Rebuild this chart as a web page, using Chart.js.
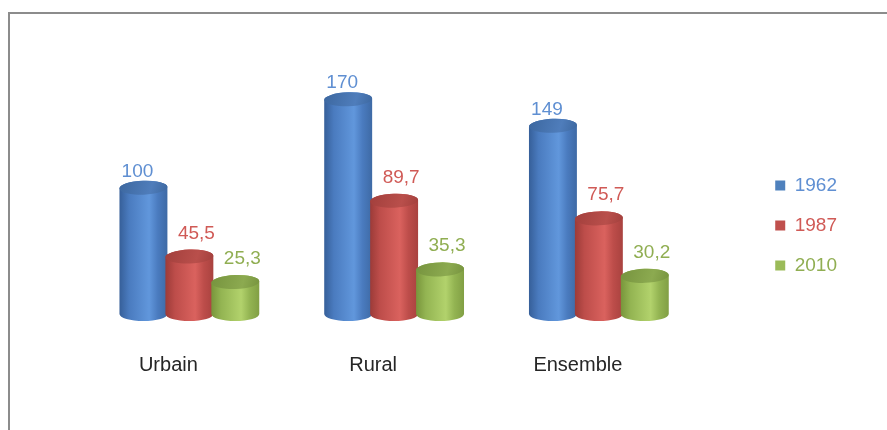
<!DOCTYPE html>
<html>
<head>
<meta charset="utf-8">
<script src="https://cdn.jsdelivr.net/npm/chart.js@4.4.1/dist/chart.umd.min.js"></script>
<style>
  html, body { margin: 0; padding: 0; background: #fff; overflow: hidden; }
  #frame { position: absolute; left: 8px; top: 12px; width: 900px; height: 440px; border: 2px solid #8c8c8c; }
  #wrap { position: absolute; left: 0; top: 0; width: 887px; height: 430px; }
</style>
</head>
<body>
<div id="frame"></div>
<div id="wrap"><canvas id="chart" width="887" height="430"></canvas></div>
<script>
const categories = ['Urbain', 'Rural', 'Ensemble'];
const years = ['1962', '1987', '2010'];
const values1962 = [100, 170, 149];
const values1987 = [45.5, 89.7, 75.7];
const values2010 = [25.3, 35.3, 30.2];

const seriesColors = ['#4f81bd', '#c0504d', '#9bbb59'];
const textColors = ['#5f8fd2', '#d05a56', '#90ae52'];
// body gradient (left, light, right) and top cap colour for each series
const shades = [
  { edge: '#365f99', mid: '#4a7bbf', light: '#6197dc', right: '#3e6aa5', top: '#3c679f', topLight: '#4f7dbb' },
  { edge: '#9c3b38', mid: '#bd4d4a', light: '#da625e', right: '#a9423f', top: '#a23f3c', topLight: '#b94f4b' },
  { edge: '#78953b', mid: '#93b452', light: '#b2d26c', right: '#819f44', top: '#76933e', topLight: '#8caa50' }
];
// label nudges per series (x shift, gap above the cap)
const labelDx = [-6, 7, 7];
const labelGap = [11, 18, 18];

const FONT = 'Liberation Sans, Arial, sans-serif';

function drawCylinder(ctx, x, top, base, w, s) {
  const rx = w / 2, ry = 7, tilt = -0.035;
  const g = ctx.createLinearGradient(x - rx, 0, x + rx, 0);
  g.addColorStop(0, s.edge);
  g.addColorStop(0.2, s.mid);
  g.addColorStop(0.62, s.light);
  g.addColorStop(0.8, s.mid);
  g.addColorStop(1, s.right);
  ctx.beginPath();
  ctx.moveTo(x - rx, top + rx * Math.sin(-tilt));
  ctx.lineTo(x - rx, base);
  ctx.ellipse(x, base, rx, ry, 0, Math.PI, 0, true);
  ctx.lineTo(x + rx, top - rx * Math.sin(-tilt));
  ctx.ellipse(x, top, rx, ry, tilt, 0, Math.PI, true);
  ctx.closePath();
  ctx.fillStyle = g;
  ctx.fill();

  const tg = ctx.createLinearGradient(x - rx, top - ry, x + rx, top + ry);
  tg.addColorStop(0, s.top);
  tg.addColorStop(0.65, s.topLight);
  tg.addColorStop(1, s.top);
  ctx.beginPath();
  ctx.ellipse(x, top, rx, ry, tilt, 0, Math.PI * 2);
  ctx.fillStyle = tg;
  ctx.fill();
}

const cylinders = {
  id: 'cylinders',
  afterDatasetsDraw(chart) {
    const ctx = chart.ctx;
    ctx.save();
    chart.data.datasets.forEach((ds, di) => {
      chart.getDatasetMeta(di).data.forEach((bar) => {
        const p = bar.getProps(['x', 'y', 'base', 'width'], true);
        drawCylinder(ctx, p.x, p.y, p.base, p.width + 2, shades[di]);
      });
    });
    ctx.font = '19px ' + FONT;
    ctx.textAlign = 'center';
    ctx.textBaseline = 'alphabetic';
    chart.data.datasets.forEach((ds, di) => {
      chart.getDatasetMeta(di).data.forEach((bar, i) => {
        const p = bar.getProps(['x', 'y'], true);
        ctx.fillStyle = textColors[di];
        ctx.fillText(String(ds.data[i]).replace('.', ','), p.x + labelDx[di], p.y - labelGap[di]);
      });
    });
    ctx.restore();
  }
};

new Chart(document.getElementById('chart'), {
  type: 'bar',
  data: {
    labels: categories,
    datasets: [
      { label: years[0], data: values1962 },
      { label: years[1], data: values1987 },
      { label: years[2], data: values2010 }
    ].map(d => Object.assign(d, {
      backgroundColor: 'rgba(0,0,0,0)',
      borderWidth: 0,
      categoryPercentage: 0.673,
      barPercentage: 1
    }))
  },
  options: {
    responsive: false,
    devicePixelRatio: 1,
    animation: false,
    layout: { padding: { left: 87, right: 40, top: 74, bottom: 53 } },
    plugins: {
      tooltip: { enabled: false },
      legend: {
        position: 'right',
        labels: {
          boxWidth: 10,
          boxHeight: 10,
          padding: 21,
          font: { family: FONT, size: 19 },
          generateLabels(chart) {
            return chart.data.datasets.map((ds, i) => ({
              text: ds.label,
              fillStyle: seriesColors[i],
              strokeStyle: seriesColors[i],
              lineWidth: 0,
              fontColor: textColors[i],
              hidden: false,
              datasetIndex: i
            }));
          }
        }
      }
    },
    scales: {
      x: {
        grid: { display: false, drawTicks: false },
        border: { display: false },
        ticks: { labelOffset: -21, padding: 39, maxRotation: 0, color: '#262626', font: { family: FONT, size: 20 } },
        afterFit(scale) { scale.height = 63; }
      },
      y: {
        position: 'right',
        min: 0,
        max: 190,
        grid: { display: false, drawTicks: false },
        border: { display: false },
        ticks: { display: false },
        afterFit(scale) { scale.width = 53; }
      }
    }
  },
  plugins: [cylinders]
});
</script>
</body>
</html>
